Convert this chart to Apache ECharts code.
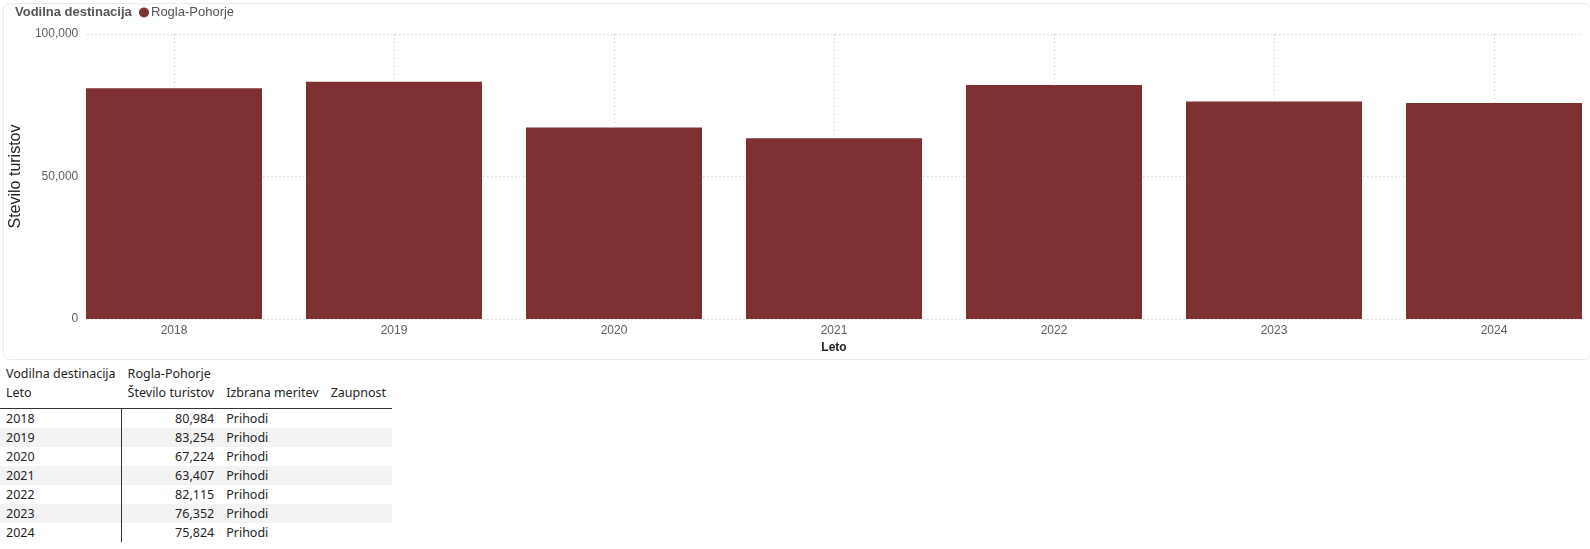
<!DOCTYPE html>
<html>
<head>
<meta charset="utf-8">
<script src="https://cdn.jsdelivr.net/npm/echarts@6/dist/echarts.min.js"></script>
<style>
  html, body { margin: 0; padding: 0; background: #fff; overflow: hidden; width: 1590px; height: 549px; }
  #chart { position: absolute; left: 0; top: 0; width: 1610px; height: 360px; }
  #tbl { position: absolute; left: 0; top: 364px; font-family: "Noto Sans", "Open Sans", sans-serif; font-size: 12.5px; color: #252423; }
  table { border-collapse: collapse; }
  td { padding: 0 6px; height: 19px; line-height: 19px; white-space: nowrap; }
  .num { text-align: right; border-left: 1px solid #333; }
  .alt td { background: #F3F3F3; }
  .hdr td { height: 19px; }
  .hdr2 td { border-bottom: 1px solid #333; height: 25px; line-height: 19px; vertical-align: top; }
</style>
</head>
<body>
<div id="chart"></div>
<div id="tbl"></div>
<script>
const categories = ['2018', '2019', '2020', '2021', '2022', '2023', '2024'];
const tourists = [80984, 83254, 67224, 63407, 82115, 76352, 75824];
const measure = ['Prihodi', 'Prihodi', 'Prihodi', 'Prihodi', 'Prihodi', 'Prihodi', 'Prihodi'];
const yTicks = [0, 50000, 100000];
const destination = 'Rogla-Pohorje';

const chart = echarts.init(document.getElementById('chart'));
const fmt = v => v.toLocaleString('en-US');
chart.setOption({
  animation: false,
  title: {
    text: 'Vodilna destinacija', left: 10, top: 1,
    textStyle: { fontFamily: 'Liberation Sans', fontSize: 13, fontWeight: 'bold', color: '#555555' }
  },
  legend: {
    data: [destination], left: 134, top: 1, icon: 'circle', itemWidth: 10, itemHeight: 10, itemGap: 4,
    textStyle: { fontFamily: 'Liberation Sans', fontSize: 13, color: '#555555', padding: [0, 0, 0, -3] }
  },
  graphic: [{
    type: 'rect', left: 1, top: 1, shape: { width: 1587, height: 356, r: 6 },
    style: { fill: 'none', stroke: '#EDEBE9', lineWidth: 1 }, z: -10
  }],
  grid: [
    { left: 64, width: 1540, top: 34, bottom: 41 },
    { left: 86, width: 1496, top: 34, bottom: 41 }
  ],
  xAxis: [
    {
      type: 'category', data: categories, gridIndex: 0,
      axisLine: { show: false }, axisTick: { show: false },
      axisLabel: { margin: 6, fontFamily: 'Liberation Sans', fontSize: 12, color: '#605E5C' },
      splitLine: { show: true, alignWithLabel: true, lineStyle: { type: [1, 3], color: '#C8C6C4', width: 1 } },
      name: 'Leto', nameLocation: 'middle', nameGap: 21,
      nameTextStyle: { fontFamily: 'Liberation Sans', fontSize: 12, fontWeight: 'bold', color: '#252423' }
    },
    { type: 'value', gridIndex: 1, min: 0, max: 1, show: false }
  ],
  yAxis: [
    { type: 'value', gridIndex: 0, min: 0, max: 100000, interval: 50000, show: false, splitLine: { show: false } },
    {
      type: 'value', gridIndex: 1, min: yTicks[0], max: yTicks[yTicks.length - 1], interval: yTicks[1] - yTicks[0],
      axisLine: { show: false }, axisTick: { show: false },
      axisLabel: { margin: 9, fontFamily: 'Liberation Sans', fontSize: 12, color: '#605E5C', formatter: fmt },
      splitLine: { show: true, lineStyle: { type: [1, 3], color: '#C8C6C4', width: 1 } },
      name: 'Stevilo turistov', nameLocation: 'middle', nameGap: 57, nameRotate: 90,
      nameTextStyle: { fontFamily: 'Liberation Sans', fontSize: 16, color: '#252423' }
    }
  ],
  series: [{
    name: destination, type: 'bar', xAxisIndex: 0, yAxisIndex: 0,
    data: tourists, barCategoryGap: '20%',
    itemStyle: { color: '#7E3032' }, z: 3
  }]
});

// table
let html = '<table>';
html += '<tr class="hdr"><td>Vodilna destinacija</td><td>' + destination + '</td><td></td><td></td></tr>';
html += '<tr class="hdr2"><td>Leto</td><td>Število turistov</td><td>Izbrana meritev</td><td>Zaupnost</td></tr>';
categories.forEach((c, i) => {
  html += '<tr' + (i % 2 === 1 ? ' class="alt"' : '') + '><td style="width:102px">' + c + '</td><td class="num">' + fmt(tourists[i]) + '</td><td>' + measure[i] + '</td><td></td></tr>';
});
html += '</table>';
document.getElementById('tbl').innerHTML = html;
</script>
</body>
</html>
